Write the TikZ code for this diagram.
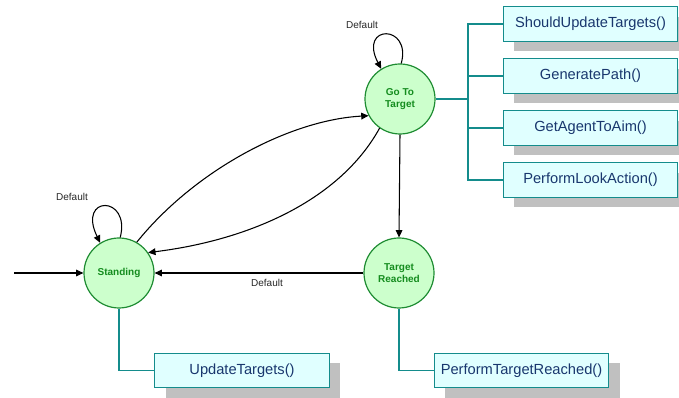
\documentclass[tikz,border=0pt]{standalone}
\usepackage{fontspec}
\setmainfont{Liberation Sans}
\usetikzlibrary{arrows.meta,shadows}

\definecolor{stateFill}{RGB}{204,255,204}
\definecolor{stateLine}{RGB}{30,140,50}
\definecolor{stateText}{RGB}{20,140,30}
\definecolor{actFill}{RGB}{224,255,255}
\definecolor{actLine}{RGB}{20,140,140}
\definecolor{actText}{RGB}{25,55,110}
\definecolor{shadeGray}{RGB}{192,192,192}

\tikzset{
  state/.style={circle, draw=stateLine, line width=0.9pt, fill=stateFill,
    minimum size=52.5pt, inner sep=0pt, align=center,
    font=\fontsize{7.5}{9}\selectfont\bfseries, text=stateText},
  action/.style={rectangle, draw=actLine, line width=0.9pt, fill=actFill,
    minimum width=131pt, minimum height=26pt, inner sep=0pt,
    font=\fontsize{11}{13}\selectfont, text=actText,
    drop shadow={shadow xshift=8.25pt, shadow yshift=-7.5pt,
      fill=shadeGray, opacity=1}},
  trans/.style={draw=black, line width=0.8pt,
    -{Triangle[length=5.5pt,width=5pt]}},
  link/.style={draw=actLine, line width=0.9pt},
  lbl/.style={font=\fontsize{7.5}{9}\selectfont, text=black!85, inner sep=0pt}
}

\begin{document}
\begin{tikzpicture}[x=0.75pt,y=-0.75pt]
\useasboundingbox (0,0) rectangle (679,398);

% states
\node[state] (go) at (400,99) {Go To\\Target};
\node[state] (st) at (119,273) {Standing};
\node[state] (tr) at (399,273) {Target\\Reached};

% actions
\node[action] (a1) at (590.5,24) {ShouldUpdateTargets()};
\node[action] (a2) at (590.5,76) {GeneratePath()};
\node[action] (a3) at (590.5,128) {GetAgentToAim()};
\node[action] (a4) at (590.5,180) {PerformLookAction()};
\node[action] (a5) at (242,370.5) {UpdateTargets()};
\node[action] (a6) at (521.5,370.5) {PerformTargetReached()};

% action links
\coordinate (fork) at (468,99);
\draw[link] (go.east) -- (fork);
\draw[link] (a1.west) -| (fork);
\draw[link] (a2.west) -| (fork);
\draw[link] (a3.west) -| (fork);
\draw[link] (a4.west) -| (fork);
\draw[link] (st.south) |- (a5.west);
\draw[link] (tr.south) |- (a6.west);

% entry arrow
\coordinate (entry) at (14,273);
\draw[trans] (entry) -- (st.west);

% transitions
\draw[trans] (st.60) .. controls (195,170) and (290,120) .. (go.208);
\draw[trans] (go.235) .. controls (340,200) and (250,240) .. (st.35);
\draw[trans] (go.south) -- (tr.north);
\draw[trans] (tr.west) -- (st.east);

% self loops
\draw[trans] (go.88) .. controls (412,24) and (358,24) .. (go.122);
\draw[trans] (st.88) .. controls (131,195) and (77,195) .. (st.122);

% labels
\node[lbl] (l1) at (362,25) {Default};
\node[lbl] (l2) at (72,197) {Default};
\node[lbl] (l3) at (267,283) {Default};
\end{tikzpicture}
\end{document}
